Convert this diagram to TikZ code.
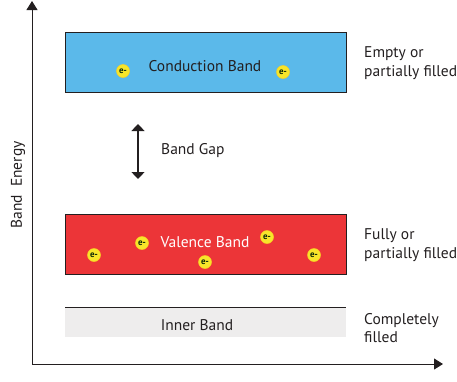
\documentclass[tikz,border=0pt]{standalone}
\usepackage{fontspec}
\setmainfont{PT Sans}
\usetikzlibrary{arrows.meta}
\definecolor{cband}{HTML}{5BB9EA}
\definecolor{vband}{HTML}{EC3538}
\definecolor{iband}{HTML}{EEEDED}
\definecolor{elec}{HTML}{F7E62A}
\definecolor{txt}{HTML}{231F20}
\tikzset{
  lbl/.style={text=txt, inner sep=0pt, font=\fontsize{15.5}{18.5}\selectfont},
  band/.style={draw=txt, line width=1pt, minimum width=281pt, minimum height=60pt, inner sep=0pt},
  electron/.style={circle, fill=elec, draw=elec!80!orange, line width=0.5pt, minimum size=13pt, inner sep=0pt, font=\fontsize{9}{9}\selectfont\bfseries, text=txt!70!green!40!black},
  side/.style={lbl, anchor=west, align=left},
  axis/.style={line width=1pt, draw=txt, -{Triangle[length=9pt,width=11pt]}},
}
\begin{document}
\begin{tikzpicture}[x=1pt,y=-1pt]
\useasboundingbox (0,0) rectangle (457,381);
\coordinate (o) at (32,364);
\coordinate (ytop) at (32,1);
\coordinate (xend) at (443,364);
\draw[axis] (o) -- (ytop);
\draw[axis] (o) -- (xend);
\node[lbl, rotate=90] (ylab) at (18,185) {Band\ \ Energy};

\node[band, fill=cband] (cb) at (205.5,62) {};
\node[lbl] (cbt) at (205,66) {Conduction Band};
\node[electron] (e1) at (123,71) {e-};
\node[electron] (e2) at (283,72) {e-};
\node[side] (cbl) at (364,63) {Empty or\\partially filled};

\coordinate (gt) at (138,124);
\coordinate (gb) at (138,179);
\draw[line width=1.2pt, draw=txt, {Triangle[length=7pt,width=13pt]}-{Triangle[length=7pt,width=13pt]}] (gt) -- (gb);
\node[lbl, anchor=west] (bg) at (161,151) {Band Gap};

\node[band, fill=vband] (vb) at (205.5,244) {};
\node[lbl, text=white] (vbt) at (205,242) {Valence Band};
\node[electron] (e3) at (142,243) {e-};
\node[electron] (e4) at (267,237) {e-};
\node[electron] (e5) at (94,255) {e-};
\node[electron] (e6) at (205,262) {e-};
\node[electron] (e7) at (314,255) {e-};
\node[side] (vbl) at (364,245) {Fully or\\partially filled};

\fill[iband] (65,307) rectangle (346,337);
\coordinate (il) at (65,307);
\coordinate (ir) at (346,307);
\draw[line width=0.8pt, draw=txt] (il) -- (ir);
\node[lbl] (ib) at (197,325) {Inner Band};
\node[side] (ibl) at (364,328) {Completely\\filled};
\end{tikzpicture}
\end{document}
